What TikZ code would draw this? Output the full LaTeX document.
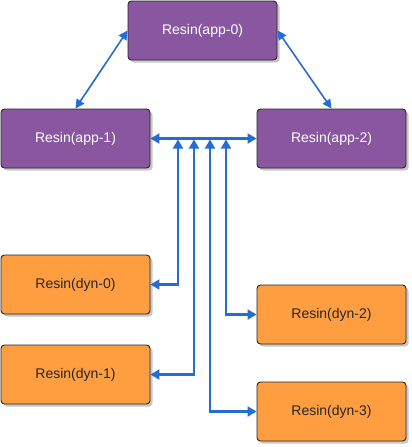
\documentclass[tikz,border=0pt]{standalone}
\usepackage{fontspec}
\setmainfont{Liberation Sans}
\usetikzlibrary{arrows.meta,shadows}
\definecolor{apppurple}{RGB}{137,86,160}
\definecolor{dynorange}{RGB}{255,158,64}
\definecolor{linkblue}{RGB}{40,108,210}
\tikzset{
  boxbase/.style={draw=black!85, line width=0.9pt, rounded corners=3.5pt,
    minimum width=149pt, minimum height=59pt, inner sep=0pt,
    font=\fontsize{14}{16}\selectfont,
    drop shadow={shadow xshift=2.5pt, shadow yshift=-2.5pt, opacity=0.22, fill=black}},
  appbox/.style={boxbase, fill=apppurple, text=white},
  dynbox/.style={boxbase, fill=dynorange, text=black!85},
  link/.style={draw=linkblue, line width=2.1pt,
    {Triangle[length=9pt,width=10pt]}-{Triangle[length=9pt,width=10pt]}},
  diaglink/.style={draw=linkblue, line width=1.6pt,
    {Triangle[length=9pt,width=9pt]}-{Triangle[length=9pt,width=9pt]}}
}
\begin{document}
\begin{tikzpicture}[x=1pt,y=-1pt]
\useasboundingbox (0,0) rectangle (412,447);
\node[appbox] (app0) at (202.5,30.5) {Resin(app-0)};
\node[appbox] (app1) at (75.5,138.5) {Resin(app-1)};
\node[appbox] (app2) at (331.5,138.5) {Resin(app-2)};
\node[dynbox] (dyn0) at (75.5,284.5) {Resin(dyn-0)};
\node[dynbox] (dyn1) at (75.5,374.5) {Resin(dyn-1)};
\node[dynbox] (dyn2) at (331.5,314.5) {Resin(dyn-2)};
\node[dynbox] (dyn3) at (331.5,411.5) {Resin(dyn-3)};
\coordinate (t0) at (178,139.5);
\coordinate (t1) at (194,139.5);
\coordinate (t3) at (210,139.5);
\coordinate (t2) at (226,139.5);
\draw[diaglink] (app0.west) -- (app1.north);
\draw[diaglink] (app0.east) -- (app2.north);
\draw[link] (app1.east) -- (app2.west);
\draw[link] (dyn0.east) -| (t0);
\draw[link] (dyn1.east) -| (t1);
\draw[link] (dyn3.west) -| (t3);
\draw[link] (dyn2.west) -| (t2);
\end{tikzpicture}
\end{document}
